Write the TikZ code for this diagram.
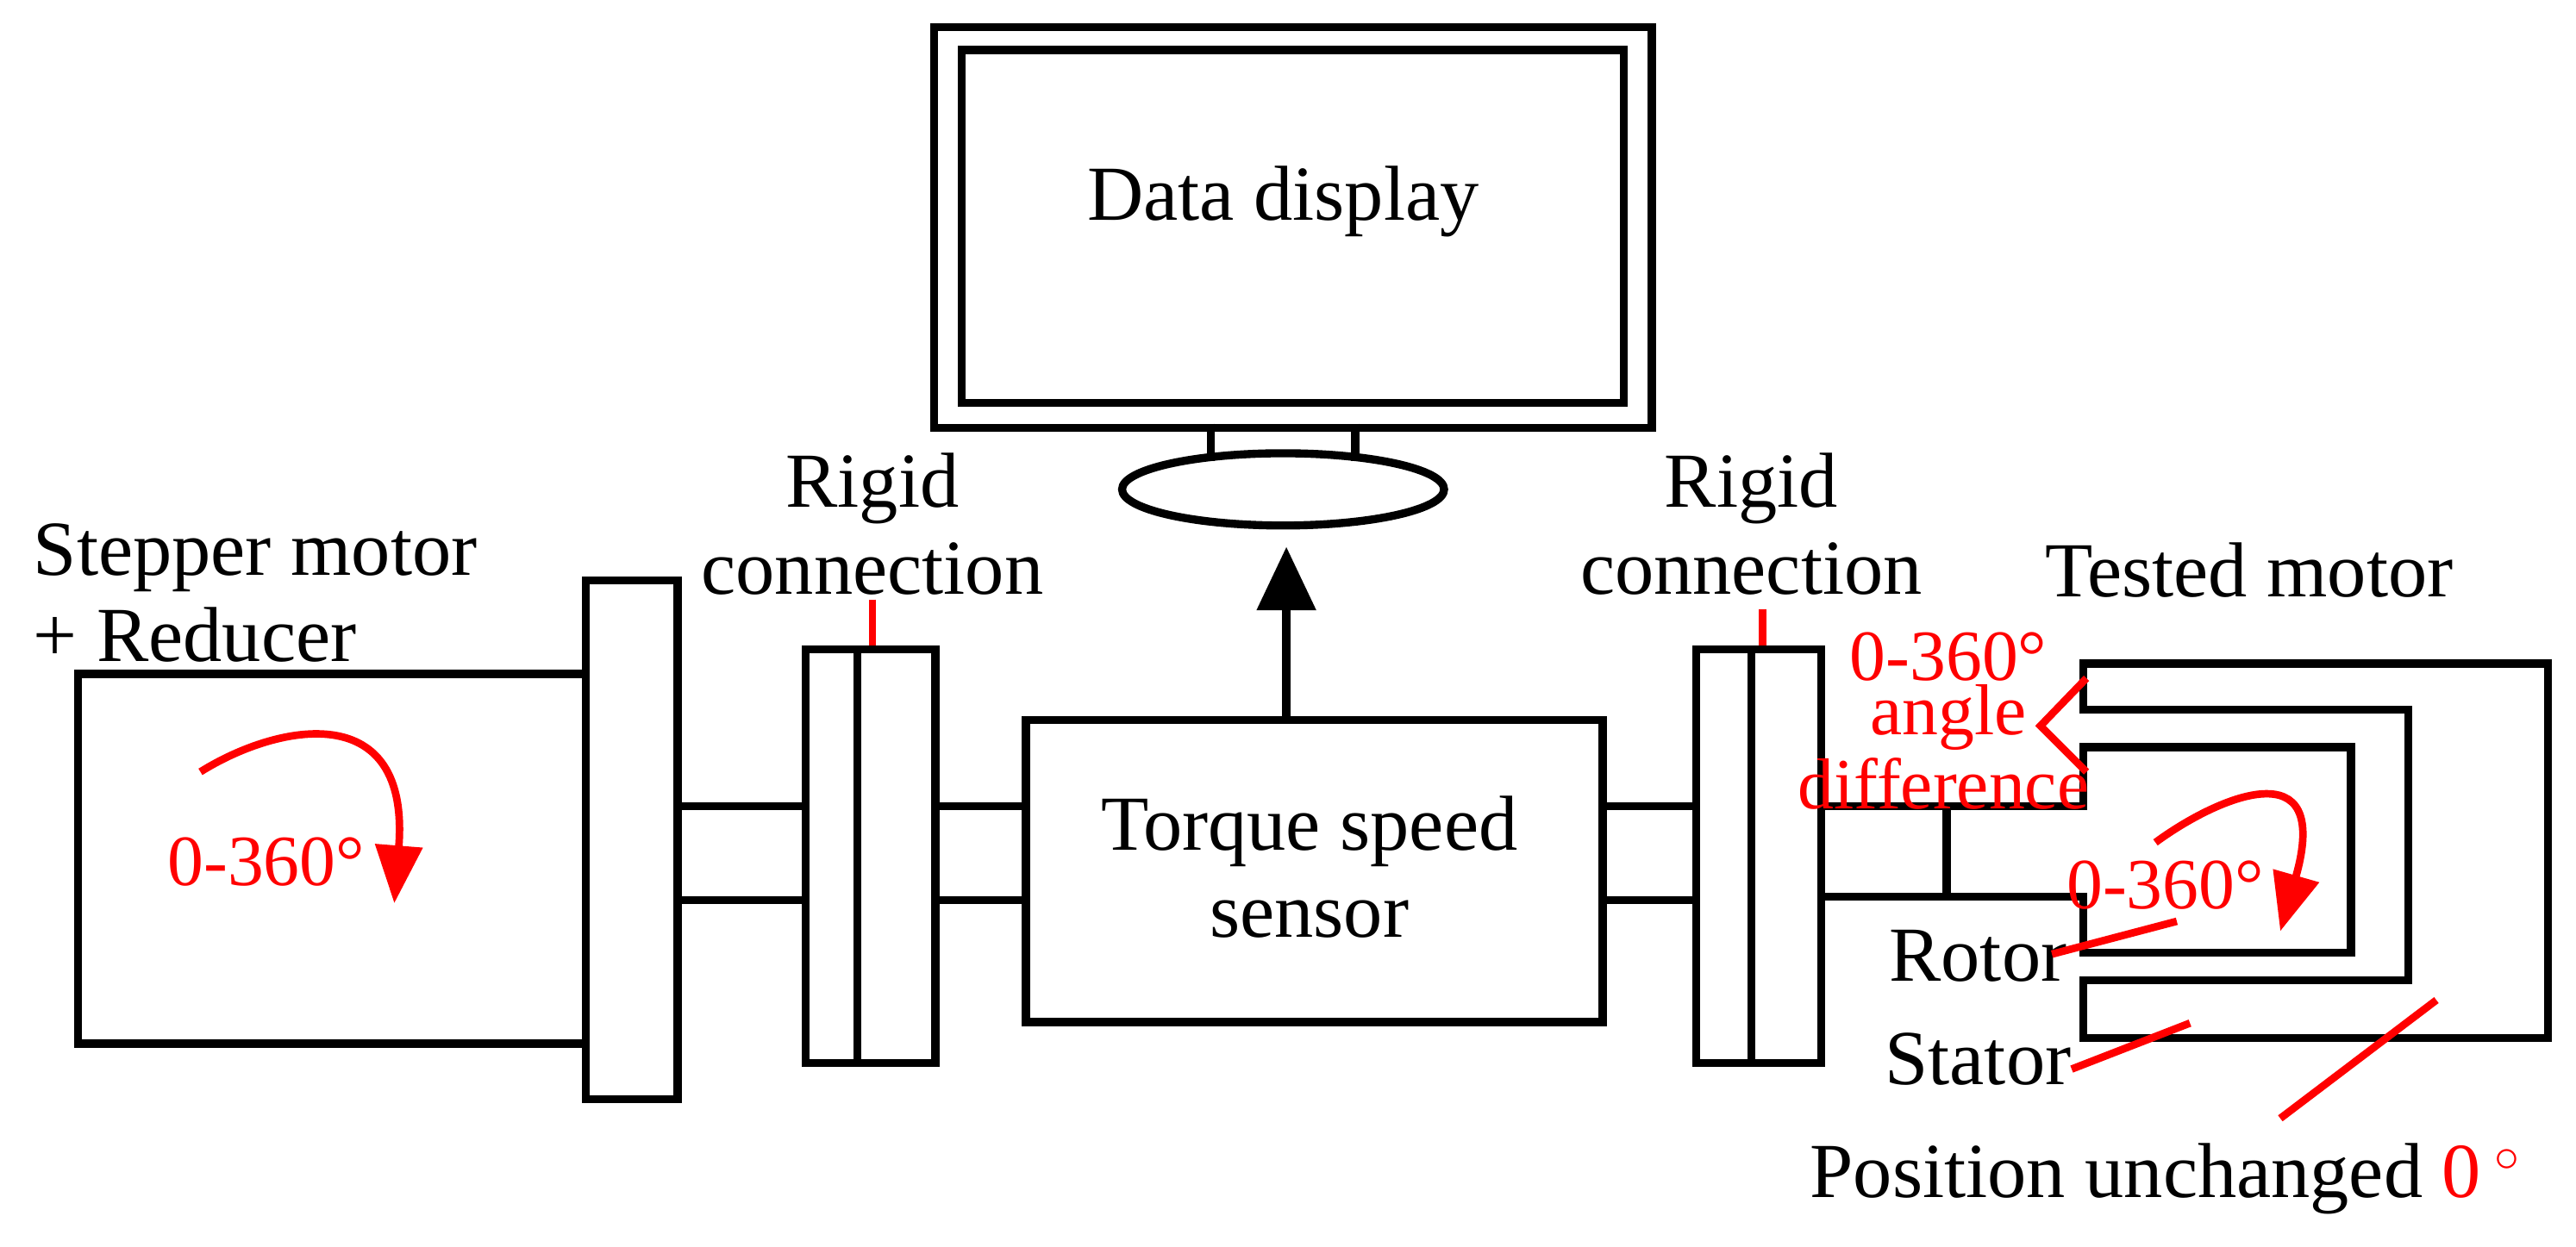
\documentclass[tikz,border=0pt]{standalone}
\usepackage{fontspec}
\setmainfont{Liberation Serif}
\usetikzlibrary{arrows.meta,shapes.geometric}
\begin{document}
\begin{tikzpicture}[x=0.02cm,y=-0.02cm,
  blk/.style={draw,line width=2.8pt},
  ln/.style={line width=2.8pt},
  rd/.style={draw=red,line width=2.6pt},
  txt/.style={font=\fontsize{27}{30}\selectfont,align=center,inner sep=0pt},
  rtxt/.style={font=\fontsize{25}{30}\selectfont,align=center,inner sep=0pt,text=red}]
\useasboundingbox (0,0) rectangle (1568,759);
% monitor
\node[blk,minimum width=437*0.02cm,minimum height=244*0.02cm,anchor=north west] (mon) at (566,14) {};
\node[blk,minimum width=403*0.02cm,minimum height=215*0.02cm,anchor=north west] (scr) at (583,28) {};
\node[txt] (dd) at (781,123) {Data display};
\coordinate (n1) at (737,258); \coordinate (n1b) at (737,281);
\coordinate (n2) at (825,258); \coordinate (n2b) at (825,281);
\draw[ln] (n1)--(n1b) (n2)--(n2b);
\node[draw,line width=2.8pt,ellipse,minimum width=196*0.02cm,minimum height=44*0.02cm] (base) at (781,298) {};
% sensor
\node[blk,minimum width=351*0.02cm,minimum height=184*0.02cm,anchor=north west] (sen) at (622,436) {};
\node[txt] (sent) at (797,528) {Torque speed\\sensor};
\coordinate (atip) at (783,333);
\draw[ln,-{Triangle[length=22pt,width=20pt]}] (783,436) -- (atip);
% stepper motor
\node[blk,minimum width=309*0.02cm,minimum height=225*0.02cm,anchor=north west] (mot) at (45,408) {};
\node[blk,minimum width=56*0.02cm,minimum height=316*0.02cm,anchor=north west] (fl) at (354,351) {};
\node[txt,align=left,anchor=west] (smt) at (20,361) {Stepper motor\\+ Reducer};
\draw[rd,-{Triangle[length=20pt,width=16pt]}] (122,470) .. controls (170,440) and (250,425) .. (240,550);
\node[rtxt] (s360) at (162,525) {0-360°};
% shafts
\draw[ln] (410,491)--(488,491) (410,548)--(488,548);
\draw[ln] (567,491)--(622,491) (567,548)--(622,548);
\draw[ln] (973,491)--(1030,491) (973,548)--(1030,548);
% couplings
\node[blk,minimum width=79*0.02cm,minimum height=252*0.02cm,anchor=north west] (c1) at (488,393) {};
\draw[ln] (522,393)--(522,645);
\draw[rd] (531,365)--(531,393);
\node[txt] (rc1) at (531,319) {Rigid\\connection};
\node[blk,minimum width=76*0.02cm,minimum height=252*0.02cm,anchor=north west] (c2) at (1030,393) {};
\draw[ln] (1066,393)--(1066,645);
\draw[rd] (1073,371)--(1073,393);
\node[txt] (rc2) at (1066,319) {Rigid\\connection};
% tested motor
\node[txt] (tm) at (1369,347) {Tested motor};
\draw[ln,line join=miter] (1268,404)--(1551,404)--(1551,632)--(1268,632)--(1268,597)--(1466,597)--(1466,432)--(1268,432)--cycle;
\draw[ln,line join=miter] (1106,491)--(1268,491)--(1268,455)--(1431,455)--(1431,580)--(1268,580)--(1268,546)--(1106,546);
\draw[ln] (1185,491)--(1185,546);
\draw[rd] (1270,413)--(1242,442)--(1270,470);
\node[rtxt] (a360) at (1186,400) {0-360°};
\node[rtxt] (ang) at (1186,437) {angle};
\node[rtxt] (dif) at (1183,477) {difference};
\draw[rd,-{Triangle[length=20pt,width=16pt]}] (1312,513) .. controls (1350,485) and (1420,455) .. (1388,567);
\node[rtxt] (r360) at (1318,539) {0-360°};
\node[txt] (rot) at (1204,582) {Rotor};
\node[txt] (sta) at (1204,645) {Stator};
\draw[rd] (1249,581)--(1325,561);
\draw[rd] (1261,651)--(1333,623);
\draw[rd] (1388,681)--(1483,609);
\node[txt] (pos) at (1318,718) {Position unchanged \textcolor{red}{0\,$^\circ$}};
\end{tikzpicture}
\end{document}
